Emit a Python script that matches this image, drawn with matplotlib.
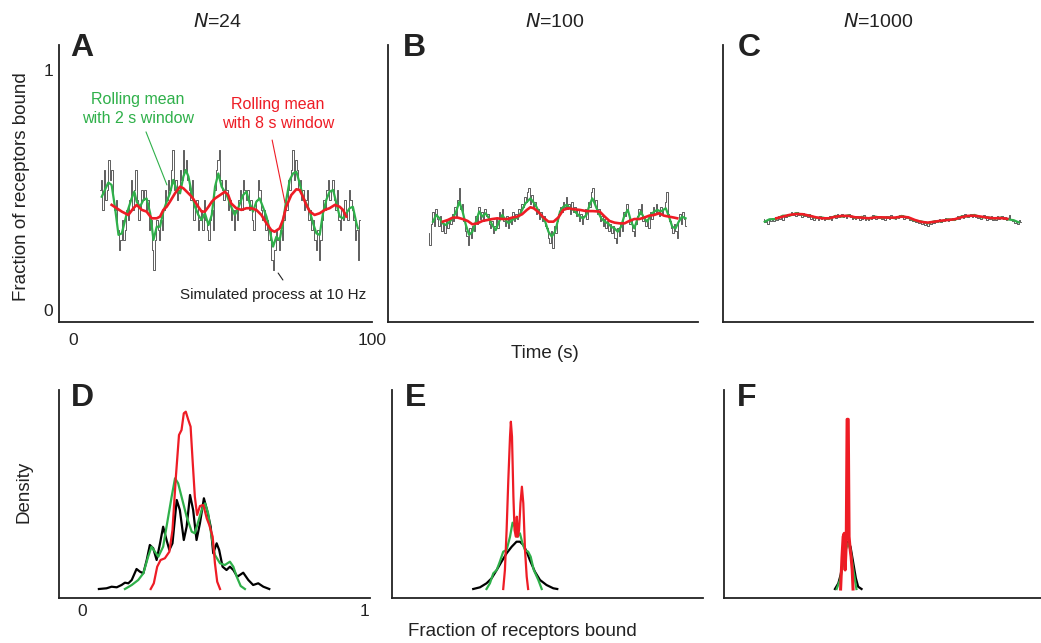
import numpy as np
import matplotlib
matplotlib.use("Agg")
import matplotlib.pyplot as plt

plt.rcParams["font.family"] = ["Liberation Sans", "DejaVu Sans"]

GREEN = "#2fb04a"
RED = "#ee1c25"
GRAY = "#444444"
SPINE = "#222222"

# ---------------- time series ----------------
# simulated process, sampled every 0.5 s from t = 9 s
T0, DT = 9.0, 0.5

# N=24: number of bound receptors (out of 24)
gray_a_counts = [
    12, 13, 10, 14, 11, 12, 15, 13, 14, 11,
    10, 11, 8, 6, 7, 9, 7, 8, 10, 9,
    11, 13, 10, 12, 14, 11, 9, 10, 12, 11,
    12, 10, 11, 8, 9, 6, 4, 7, 9, 8,
    7, 9, 8, 10, 12, 11, 13, 12, 14, 16,
    12, 13, 11, 12, 14, 13, 16, 14, 15, 13,
    12, 11, 13, 9, 10, 11, 8, 9, 10, 8,
    11, 9, 8, 7, 9, 10, 8, 12, 14, 15,
    16, 13, 12, 11, 13, 12, 10, 11, 9, 10,
    8, 10, 9, 11, 12, 10, 13, 12, 11, 12,
    10, 11, 9, 8, 10, 11, 13, 12, 10, 9,
    10, 8, 9, 7, 8, 5, 4, 6, 8, 7,
    6, 8, 7, 9, 11, 10, 13, 12, 14, 16,
    13, 15, 14, 12, 13, 11, 12, 10, 11, 12,
    9, 10, 8, 9, 7, 6, 8, 5, 7, 9,
    11, 10, 12, 13, 11, 12, 13, 11, 10, 12,
    9, 8, 10, 9, 11, 10, 9, 12, 11, 10,
    9, 7, 8, 5, 9,
]

# N=100: percent bound
gray_b_pct = [
    32, 27, 36, 41, 35, 42, 38, 35, 39, 33,
    36, 32, 37, 34, 38, 36, 40, 37, 43, 39,
    46, 51, 42, 44, 37, 33, 31, 27, 34, 30,
    35, 33, 39, 36, 43, 38, 41, 37, 42, 39,
    40, 36, 34, 37, 32, 35, 38, 34, 41, 38,
    42, 37, 35, 39, 34, 38, 36, 41, 37, 40,
    38, 42, 40, 44, 43, 47, 45, 49, 51, 44,
    48, 43, 45, 40, 42, 38, 41, 37, 39, 35,
    34, 30, 28, 33, 26, 35, 32, 37, 40, 43,
    41, 45, 43, 47, 42, 44, 40, 45, 41, 43,
    39, 42, 37, 40, 36, 39, 42, 38, 45, 43,
    49, 51, 44, 46, 40, 42, 37, 39, 35, 38,
    34, 37, 33, 36, 32, 35, 30, 28, 34, 31,
    36, 33, 41, 39, 44, 40, 36, 38, 33, 31,
    36, 39, 42, 40, 44, 37, 39, 35, 38, 34,
    41, 38, 43, 40, 44, 41, 39, 43, 40, 42,
    45, 49, 40, 37, 34, 32, 36, 33, 30, 37,
    40, 36, 41, 38, 35,
]

# N=1000: per mille bound
gray_c_pm = [
    380, 365, 372, 360, 378, 369, 383, 371, 387, 376,
    391, 380, 386, 375, 396, 388, 402, 391, 398, 409,
    397, 405, 392, 408, 396, 401, 389, 404, 393, 398,
    386, 399, 381, 392, 377, 388, 383, 374, 390, 379,
    386, 373, 389, 378, 384, 391, 376, 387, 395, 383,
    398, 386, 392, 401, 388, 396, 384, 393, 402, 389,
    381, 392, 378, 390, 383, 375, 389, 380, 394, 377,
    386, 373, 389, 381, 396, 384, 378, 391, 382, 393,
    379, 388, 376, 392, 384, 381, 395, 383, 389, 378,
    392, 385, 397, 387, 394, 381, 391, 383, 388, 376,
    381, 372, 377, 366, 374, 361, 369, 358, 367, 356,
    364, 352, 369, 360, 372, 364, 376, 367, 371, 380,
    368, 377, 371, 383, 374, 370, 381, 376, 385, 373,
    382, 391, 379, 388, 396, 385, 398, 390, 387, 395,
    401, 389, 397, 386, 393, 384, 391, 380, 388, 395,
    382, 376, 389, 380, 392, 377, 386, 374, 390, 381,
    385, 392, 378, 387, 374, 382, 395, 379, 370, 376,
    362, 371, 358, 374, 366,
]

# rolling means, 2 s window (green) and 8 s window (red)
green_a_t = [9.6, 11.8, 12.9, 14.0, 15.2, 16.3, 18.0, 19.6, 20.5, 21.3, 22.4, 23.5, 24.6,
             25.8, 26.9, 28.0, 29.1, 30.2, 31.3, 32.4, 33.5, 34.7, 35.8, 36.9, 37.7, 38.6,
             39.7, 40.8, 41.9, 43.0, 44.1, 45.3, 46.4, 47.5, 48.6, 49.7, 51.4, 52.9, 54.1,
             55.2, 56.9, 58.0, 59.1, 60.2, 61.3, 62.4, 63.5, 64.7, 65.8, 66.9, 68.0, 69.1,
             70.2, 71.3, 72.5, 73.6, 74.7, 75.8, 76.9, 78.0, 79.2, 80.3, 81.4, 82.5, 83.6,
             84.7, 85.8, 87.0, 88.1, 89.2, 90.3, 91.4, 92.5, 93.6, 94.8, 95.3]
green_a_v = [.472, .531, .521, .430, .313, .319, .403, .465, .493, .451, .430, .458, .465,
             .403, .292, .347, .347, .410, .451, .486, .542, .500, .486, .556, .583, .556,
             .486, .430, .396, .375, .403, .354, .396, .514, .569, .514, .479, .430, .396,
             .424, .479, .493, .444, .410, .451, .465, .430, .389, .333, .264, .305, .292,
             .361, .458, .542, .569, .576, .528, .472, .444, .410, .361, .319, .313, .403,
             .458, .493, .500, .444, .389, .382, .403, .424, .430, .361, .340]
red_a_t = [12.9, 14.6, 16.3, 18.5, 20.2, 21.3, 23.0, 24.6, 26.3, 28.0, 29.1, 30.2, 31.3,
           32.4, 34.1, 35.8, 36.9, 38.6, 39.7, 40.8, 41.9, 43.0, 44.1, 45.3, 46.4, 47.5,
           49.2, 50.8, 51.9, 52.9, 54.6, 56.3, 58.0, 59.6, 61.3, 63.0, 64.7, 66.3, 67.4,
           69.1, 70.2, 71.3, 73.0, 74.7, 75.8, 76.9, 78.0, 79.2, 80.8, 82.5, 84.2, 85.8,
           87.6, 89.2, 90.3, 91.4]
red_a_v = [.438, .424, .410, .396, .424, .438, .417, .410, .382, .382, .389, .417, .430,
           .451, .486, .514, .507, .486, .472, .451, .430, .410, .410, .430, .451, .465,
           .479, .493, .479, .444, .424, .417, .424, .424, .417, .396, .361, .333, .326,
           .340, .375, .430, .479, .503, .500, .472, .438, .410, .396, .403, .417, .424,
           .438, .430, .417, .389]

green_b_t = [10.5, 11.6, 12.7, 13.8, 14.9, 16.1, 17.2, 18.3, 19.4, 20.5, 21.6, 22.7, 23.8,
             25.0, 26.1, 27.2, 28.3, 29.4, 30.5, 31.7, 32.8, 33.9, 35.0, 36.1, 37.2, 38.4,
             39.5, 40.6, 41.7, 43.4, 45.1, 46.2, 47.3, 48.4, 49.5, 50.6, 51.7, 52.3, 53.4,
             54.5, 55.6, 56.8, 57.9, 59.0, 60.1, 61.2, 62.3, 63.4, 64.3, 65.1, 66.2, 67.3,
             68.5, 69.6, 70.7, 71.8, 72.9, 74.0, 75.2, 76.3, 77.4, 78.5, 79.6, 80.7, 81.8,
             82.9, 84.0, 85.2, 86.3, 87.4, 89.1, 90.2, 91.3, 92.4, 93.5, 94.6, 95.8]
green_b_v = [.368, .396, .382, .361, .354, .368, .382, .410, .451, .410, .354, .313, .326,
             .368, .410, .389, .403, .382, .354, .333, .368, .396, .375, .361, .375, .382,
             .389, .417, .444, .465, .438, .410, .389, .368, .326, .306, .326, .354, .410,
             .430, .438, .424, .417, .403, .389, .382, .396, .438, .465, .444, .410, .382,
             .368, .361, .347, .340, .326, .347, .396, .417, .368, .340, .382, .410, .382,
             .368, .396, .410, .417, .410, .424, .389, .347, .340, .368, .389, .382]
red_b_t = [13.8, 15.5, 17.2, 18.8, 20.5, 22.2, 23.8, 25.5, 27.2, 28.9, 30.5, 32.2, 33.9,
           35.6, 37.2, 38.9, 40.6, 42.2, 43.4, 44.5, 46.2, 47.8, 49.5, 51.2, 52.8, 54.5,
           56.2, 57.9, 60.1, 62.3, 64.5, 66.8, 68.5, 70.1, 71.8, 73.5, 75.2, 76.8, 78.5,
           80.2, 81.8, 83.5, 85.2, 86.9, 88.5, 90.2, 91.9, 93.0]
red_b_v = [.368, .375, .385, .385, .379, .371, .357, .361, .371, .375, .379, .382, .379,
           .379, .385, .389, .399, .417, .428, .424, .407, .385, .368, .368, .385, .417,
           .424, .420, .417, .412, .412, .410, .389, .371, .364, .361, .361, .371, .379,
           .379, .385, .393, .396, .403, .393, .389, .385, .382]

green_c_t = [9.4, 11.0, 13.3, 15.5, 17.7, 20.0, 22.2, 24.4, 26.7, 28.9, 31.1, 33.3, 35.6,
             37.8, 40.0, 42.2, 44.5, 46.7, 48.9, 51.2, 53.4, 55.6, 57.9, 60.1, 62.3, 64.5,
             66.8, 69.0, 71.2, 73.5, 75.7, 77.9, 80.2, 82.4, 84.6, 86.9, 89.1, 91.3, 93.5, 95.2]
green_c_v = [.368, .378, .379, .393, .392, .404, .396, .395, .383, .385, .379, .392, .389,
             .395, .383, .388, .380, .389, .384, .387, .382, .392, .384, .372, .369, .361,
             .370, .369, .378, .375, .389, .390, .396, .386, .387, .380, .385, .378, .374, .365]
red_c_t = [13.3, 15.5, 17.7, 20.0, 22.2, 24.4, 26.7, 28.9, 31.1, 33.3, 35.6, 37.8, 40.0,
           42.2, 44.5, 46.7, 48.9, 51.2, 53.4, 55.6, 57.9, 60.1, 62.3, 64.5, 66.8, 69.0,
           71.2, 73.5, 75.7, 77.9, 80.2, 82.4, 84.6, 86.9, 89.1, 91.3]
red_c_v = [.382, .389, .396, .400, .399, .393, .386, .382, .382, .389, .392, .392, .386,
           .385, .382, .386, .386, .385, .385, .389, .386, .375, .367, .364, .368, .372,
           .375, .378, .386, .392, .393, .389, .385, .382, .383, .380]

# ---------------- densities (arbitrary units) ----------------
kde_d_black_x = [.060, .087, .105, .123, .140, .152, .164, .176, .193, .205, .217, .229, .240,
                 .252, .264, .276, .287, .299, .309, .320, .335, .346, .360, .370, .382, .393,
                 .405, .417, .431, .442, .455, .464, .476, .485, .497, .511, .523, .535, .549,
                 .570, .588, .605, .623, .641, .662]
kde_d_black_y = [0, .7, 2.3, 1.7, 4, 6.3, 5.7, 9, 20, 17.3, 15.7, 29, 44, 40.7, 29, 45.7, 62.3,
                 49, 39, 45.7, 89, 79, 49, 62.3, 94, 79, 49, 65.7, 90.7, 79, 62.3, 35.7, 45.7,
                 39, 22.3, 19, 22.3, 19, 12.3, 16.3, 9, 4, 5.7, 2.3, 0]
kde_d_green_x = [.152, .176, .199, .217, .234, .246, .258, .270, .287, .305, .317, .329, .340,
                 .352, .370, .388, .399, .411, .423, .435, .446, .458, .470, .488, .505, .523,
                 .535, .547, .561, .576]
kde_d_green_y = [0, 4, 9, 15.7, 32.3, 42.3, 37.3, 32.3, 42.3, 72.3, 92.3, 110.7, 105.7, 92.3,
                 72.3, 57.3, 55.7, 67.3, 79, 85.7, 75.7, 52.3, 34, 25.7, 24, 27.3, 22.3, 12.3,
                 3, 0]
kde_d_red_x = [.243, .254, .266, .278, .293, .309, .320, .332, .343, .352, .360, .367, .376,
               .384, .391, .399, .407, .417, .429, .441, .450, .462, .470, .478, .488]
kde_d_red_y = [0, 5.7, 22.3, 29, 30.7, 37.3, 59, 112.3, 154, 159, 175.7, 177.3, 169, 162.3,
               129, 92.3, 74, 83, 84, 70.7, 64, 52.3, 25.7, 7.3, 0]

kde_e_black_x = [.206, .230, .253, .271, .289, .306, .324, .342, .359, .371, .383, .395, .406,
                 .424, .442, .465, .489, .503]
kde_e_black_y = [0, 1.7, 5.7, 10.7, 19, 27.3, 35.7, 42.3, 47.3, 47.3, 44, 37.3, 29, 17.3, 9,
                 4, .7, 0]
kde_e_green_x = [.253, .265, .277, .289, .300, .312, .324, .336, .345, .353, .361, .371, .380,
                 .389, .400, .409, .420, .436, .448]
kde_e_green_y = [0, 5.7, 15.7, 19, 27.3, 37.3, 39, 52.3, 66.3, 62.3, 52.3, 55.7, 45.7, 39,
                 37.3, 32.3, 19, 9, 0]
kde_e_red_x = [.312, .318, .324, .330, .336, .339, .343, .348, .352, .357, .360, .364, .368,
               .373, .378, .383, .389, .395, .400]
kde_e_red_y = [0, 19, 59, 109, 152.3, 167.3, 152.3, 92.3, 59, 52.3, 72.3, 52.3, 59, 85.7,
               102.3, 85.7, 39, 12.3, 0]

kde_f_black_x = [.311, .323, .331, .340, .350, .358, .366, .376, .385, .393, .405]
kde_f_black_y = [0, 5.7, 14, 29, 42.3, 47.3, 42.3, 25.7, 10.7, 2.3, 0]
kde_f_green_x = [.317, .329, .338, .347, .357, .366, .376, .387]
kde_f_green_y = [0, 9, 22.3, 37.3, 45.7, 39, 19, 0]
kde_f_red_x = [.331, .336, .340, .344, .347, .351, .354, .358, .361, .365, .368, .372, .375]
kde_f_red_y = [0, 32.3, 52.3, 55.7, 19, 45.7, 169.7, 169.7, 52.3, 39, 32.3, 19, 0]

titles = ["$N$=24", "$N$=100", "$N$=1000"]
title_x = [218, 555, 878]

# ---------------- figure ----------------
W, H = 1041, 643
fig = plt.figure(figsize=(W / 100, H / 100), dpi=100)


def px_axes(left, top, right, bottom):
    return fig.add_axes([left / W, 1 - bottom / H, (right - left) / W, (bottom - top) / H])


def style(ax):
    for s in ["top", "right"]:
        ax.spines[s].set_visible(False)
    for s in ["left", "bottom"]:
        ax.spines[s].set_color(SPINE)
        ax.spines[s].set_linewidth(1.3)
    ax.tick_params(length=0, labelsize=12.5, colors="#222222")


top_axes = [px_axes(59, 45, 372, 322), px_axes(388, 45, 698, 322), px_axes(723, 45, 1033, 322)]
bot_axes = [px_axes(59, 390, 370, 598), px_axes(392, 390, 703, 598), px_axes(724, 390, 1041, 598)]

gray_series = [np.array(gray_a_counts) / 24, np.array(gray_b_pct) / 100, np.array(gray_c_pm) / 1000]
greens = [(green_a_t, green_a_v), (green_b_t, green_b_v), (green_c_t, green_c_v)]
reds = [(red_a_t, red_a_v), (red_b_t, red_b_v), (red_c_t, red_c_v)]

for i, ax in enumerate(top_axes):
    style(ax)
    g = gray_series[i]
    t = T0 + DT * np.arange(len(g))
    ax.plot(t, g, color=GRAY, lw=0.6, drawstyle="steps-mid")
    ax.plot(*greens[i], color=GREEN, lw=1.6)
    ax.plot(*reds[i], color=RED, lw=1.9)
    ax.set_xlim(-4.7, 100)
    ax.set_ylim(-0.05, 1.104)
    ax.text(0.037 if i == 0 else 0.047, 1.045, "ABC"[i], transform=ax.transAxes,
            fontsize=23, fontweight="bold", va="top", ha="left", color="#222222")
    fig.text(title_x[i] / W, 1 - 22 / H, titles[i], ha="center", va="center",
             fontsize=14, color="#222222")
    if i == 0:
        ax.set_xticks([0, 100])
        ax.set_yticks([0, 1])
        ax.tick_params(axis="x", pad=8)
        ax.tick_params(axis="y", pad=4)
    else:
        ax.set_xticks([])
        ax.set_yticks([])

ax = top_axes[0]
ax.text(21.7, 0.838, "Rolling mean\nwith 2 s window", color=GREEN, fontsize=11.5,
        ha="center", va="center", linespacing=1.3)
ax.annotate("", xy=(31.4, 0.521), xytext=(24.4, 0.742),
            arrowprops=dict(arrowstyle="-", color=GREEN, lw=0.8, shrinkA=0, shrinkB=0))
ax.text(68.6, 0.817, "Rolling mean\nwith 8 s window", color=RED, fontsize=11.5,
        ha="center", va="center", linespacing=1.3)
ax.annotate("", xy=(70.9, 0.446), xytext=(66.6, 0.708),
            arrowprops=dict(arrowstyle="-", color=RED, lw=0.8, shrinkA=0, shrinkB=0))
ax.text(66.9, 0.0625, "Simulated process at 10 Hz", color="#222222", fontsize=11,
        ha="center", va="center")
ax.annotate("", xy=(70.2, 0.125), xytext=(68.6, 0.154),
            arrowprops=dict(arrowstyle="-", color="#222222", lw=0.8, shrinkA=0, shrinkB=0))

kdes = [
    [(kde_d_black_x, kde_d_black_y), (kde_d_green_x, kde_d_green_y), (kde_d_red_x, kde_d_red_y)],
    [(kde_e_black_x, kde_e_black_y), (kde_e_green_x, kde_e_green_y), (kde_e_red_x, kde_e_red_y)],
    [(kde_f_black_x, kde_f_black_y), (kde_f_green_x, kde_f_green_y), (kde_f_red_x, kde_f_red_y)],
]
for i, ax in enumerate(bot_axes):
    style(ax)
    (bx, by), (gx, gy), (rx, ry) = kdes[i]
    ax.plot(bx, by, color="black", lw=1.6)
    ax.plot(gx, gy, color=GREEN, lw=1.6)
    ax.plot(rx, ry, color=RED, lw=1.6 if i < 2 else 2.2)
    ax.set_xlim(-0.081, -0.081 + (ax.get_position().width * W) / 283)
    ax.set_ylim(-9, 199)
    ax.text(0.037 if i == 0 else 0.04, 1.035, "DEF"[i], transform=ax.transAxes,
            fontsize=23, fontweight="bold", va="top", ha="left", color="#222222")
    ax.set_yticks([])
    if i == 0:
        ax.set_xticks([0, 1])
        ax.tick_params(axis="x", pad=4)
    else:
        ax.set_xticks([])

fig.text(22 / W, 1 - 187 / H, "Fraction of receptors bound", rotation=90,
         ha="center", va="center", fontsize=13.5, color="#222222")
fig.text(545 / W, 1 - 353 / H, "Time (s)", ha="center", va="center", fontsize=13.5, color="#222222")
fig.text(24 / W, 1 - 492 / H, "Density", rotation=90, ha="center", va="center",
         fontsize=13.5, color="#222222")
fig.text(522 / W, 1 - 632 / H, "Fraction of receptors bound", ha="center", va="center",
         fontsize=13.5, color="#222222")

fig.savefig("out.png", dpi=100)
